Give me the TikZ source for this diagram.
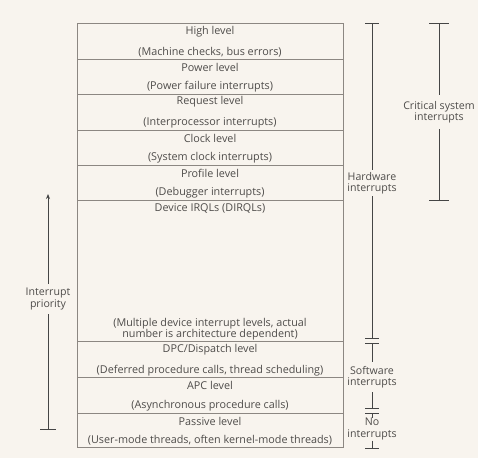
\documentclass[tikz,border=0pt]{standalone}
\usepackage{fontspec}
\setmainfont{Open Sans}
\usetikzlibrary{arrows.meta}
\definecolor{bg}{HTML}{F8F4EE}
\definecolor{boxline}{HTML}{8C8782}
\definecolor{barline}{HTML}{454545}
\definecolor{txt}{HTML}{4E4C4A}
\begin{document}
\begin{tikzpicture}[x=1pt,y=-1pt,
  lbl/.style={text=txt,font=\fontsize{10.8}{11.5}\selectfont,inner sep=0pt,align=center},
  side/.style={text=txt,font=\fontsize{10.6}{11.5}\selectfont,inner sep=2pt,align=center},
  levelbox/.style={draw=boxline,line width=0.8pt},
  bar/.style={draw=barline,line width=0.9pt}]
\fill[bg] (0,0) rectangle (478,458);
\useasboundingbox (0,0) rectangle (478,458);
% boxes
\foreach \a/\b in {23/59,59/94,94/130,130/165,165/200,200/341,341/377,377/413,413/447}
  \draw[levelbox] (77,\a) rectangle (343,\b);
% texts
\node[lbl] (t1) at (210,32) {High level};
\node[lbl] (s1) at (210,52) {(Machine checks, bus errors)};
\node[lbl] (t2) at (210,67) {Power level};
\node[lbl] (s2) at (210,87) {(Power failure interrupts)};
\node[lbl] (t3) at (210,102) {Request level};
\node[lbl] (s3) at (210,123) {(Interprocessor interrupts)};
\node[lbl] (t4) at (210,138) {Clock level};
\node[lbl] (s4) at (210,158) {(System clock interrupts)};
\node[lbl] (t5) at (210,173) {Profile level};
\node[lbl] (s5) at (210,193) {(Debugger interrupts)};
\node[lbl] (t6) at (210,208) {Device IRQLs (DIRQLs)};
\node[lbl] (s6) at (210,329) {(Multiple device interrupt levels, actual\\number is architecture dependent)};
\node[lbl] (t7) at (210,350) {DPC/Dispatch level};
\node[lbl] (s7) at (210,371) {(Deferred procedure calls, thread scheduling)};
\node[lbl] (t8) at (210,385) {APC level};
\node[lbl] (s8) at (210,406) {(Asynchronous procedure calls)};
\node[lbl] (t9) at (210,421) {Passive level};
\node[lbl] (s9) at (210,440) {(User-mode threads, often kernel-mode threads)};
% hardware interrupts
\coordinate (hwtop) at (372,23);
\coordinate (hwbot) at (372,338);
\node[side] (hw) at (372,183) {Hardware\\interrupts};
\draw[bar] (hwtop) -- (hw.north) (hw.south) -- (hwbot);
\draw[bar] ([xshift=-7]hwtop) -- ([xshift=7]hwtop);
\draw[bar] ([xshift=-7]hwbot) -- ([xshift=7]hwbot);
% software interrupts
\coordinate (swtop) at (372,343);
\coordinate (swbot) at (372,408);
\node[side,inner sep=4pt] (sw) at (372,377) {Software\\interrupts};
\draw[bar] (swtop) -- (sw.north) (sw.south) -- (swbot);
\draw[bar] ([xshift=-7]swtop) -- ([xshift=7]swtop);
\draw[bar] ([xshift=-7]swbot) -- ([xshift=7]swbot);
% no interrupts
\coordinate (notop) at (372,413);
\coordinate (nobot) at (372,448);
\node[side,inner sep=0.5pt] (no) at (372,429) {No\\interrupts};
\draw[bar] (notop) -- (no.north) (no.south) -- (nobot);
\draw[bar] ([xshift=-7]notop) -- ([xshift=7]notop);
\draw[bar] ([xshift=-7]nobot) -- ([xshift=7]nobot);
% critical system interrupts
\coordinate (crtop) at (439,23);
\coordinate (crbot) at (439,200);
\node[side,inner sep=6pt] (cr) at (439,112) {Critical system\\interrupts};
\draw[bar] (crtop) -- (cr.north) (cr.south) -- (crbot);
\draw[bar] ([xshift=-10]crtop) -- ([xshift=10]crtop);
\draw[bar] ([xshift=-10]crbot) -- ([xshift=10]crbot);
% interrupt priority
\coordinate (iptop) at (48,194);
\coordinate (ipbot) at (48,429);
\node[side,inner sep=4pt] (ip) at (48,299) {Interrupt\\priority};
\draw[bar,-{Stealth[length=5pt,width=4pt]}] (ip.north) -- (iptop);
\draw[bar] (ip.south) -- (ipbot);
\draw[bar] ([xshift=-8]ipbot) -- ([xshift=8]ipbot);
\end{tikzpicture}
\end{document}
